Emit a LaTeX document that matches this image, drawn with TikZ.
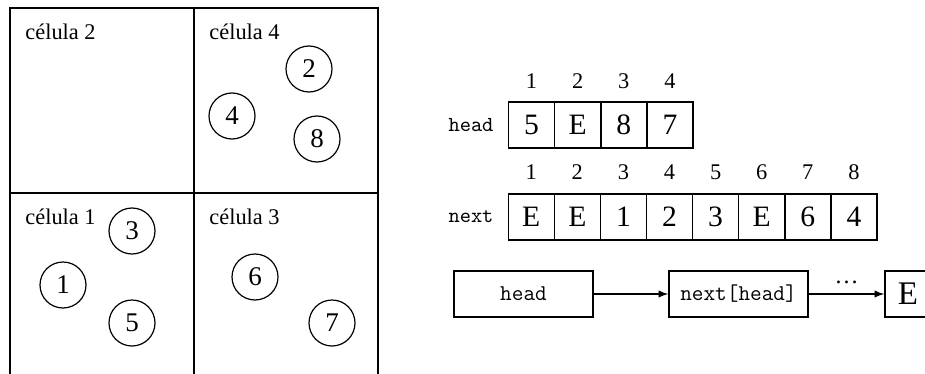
\documentclass[tikz,border=0pt]{standalone}
\usepackage{fontspec}
\setmainfont{Liberation Serif}
\usepackage{tikz}
\usetikzlibrary{arrows,positioning}

\begin{document}
\begin{tikzpicture}[x=0.5pt,y=-0.5pt,
    celllabel/.style={anchor=base west,inner sep=0pt,font=\fontsize{11.2}{13}\selectfont},
    elem/.style={draw,circle,line width=0.6pt,minimum size=23pt,inner sep=0pt,font=\fontsize{13.5}{16}\selectfont},
    slot/.style={draw,line width=0.7pt,minimum size=23pt,inner sep=0pt,font=\fontsize{14.8}{18}\selectfont},
    idx/.style={inner sep=0pt,font=\fontsize{11.2}{14}\selectfont},
    arrname/.style={inner sep=0pt,font=\fontsize{10.7}{13}\selectfont\ttfamily},
    chainbox/.style={draw,line width=0.7pt,minimum width=69.5pt,minimum height=23pt,inner sep=0pt,font=\fontsize{11.3}{14}\selectfont\ttfamily}]
    \clip (0,0) rectangle (925,374);

    % Grid of cells
    \draw[line width=1pt] (10,8) rectangle (378,380);
    \draw[line width=1pt] (194,8) -- (194,380);
    \draw[line width=1pt] (10,193) -- (378,193);
    \node[celllabel] (c2) at (25,40) {célula 2};
    \node[celllabel] (c4) at (209,40) {célula 4};
    \node[celllabel] (c1) at (25,224) {célula 1};
    \node[celllabel] (c3) at (209,224) {célula 3};

    % Elements inside the cells
    \node[elem] (e1) at (63,285) {1};
    \node[elem] (e2) at (309,69) {2};
    \node[elem] (e3) at (132,231) {3};
    \node[elem] (e4) at (232,116) {4};
    \node[elem] (e5) at (132,323) {5};
    \node[elem] (e6) at (255,277) {6};
    \node[elem] (e7) at (332,323) {7};
    \node[elem] (e8) at (317,139) {8};

    % head array
    \node[arrname] (headname) at (471,125) {head};
    \foreach \v [count=\i] in {5,E,8,7} {
        \node[slot] (h\i) at ({531.4+46.2*(\i-1)},125) {\v};
        \node[idx] (hi\i) at ({531.4+46.2*(\i-1)},81) {\i};
    }

    % next array
    \node[arrname] (nextname) at (471,217) {next};
    \foreach \v [count=\i] in {E,E,1,2,3,E,6,4} {
        \node[slot] (n\i) at ({531.2+46.1*(\i-1)},217) {\v};
        \node[idx] (ni\i) at ({531.2+46.1*(\i-1)},172) {\i};
    }

    % Walking the list
    \node[chainbox] (hb) at (523.5,294) {head};
    \node[chainbox] (nb) at (738.5,294) {next[head]};
    \node[slot,font=\fontsize{16.5}{18}\selectfont] (eb) at (908,294) {E};
    \draw[line width=0.7pt,-latex] (hb) -- (nb);
    \draw[line width=0.7pt,-latex] (nb) -- node[above,inner sep=4.5pt,font=\fontsize{12}{14}\selectfont] (dots) {\dots} (eb);
\end{tikzpicture}
\end{document}
